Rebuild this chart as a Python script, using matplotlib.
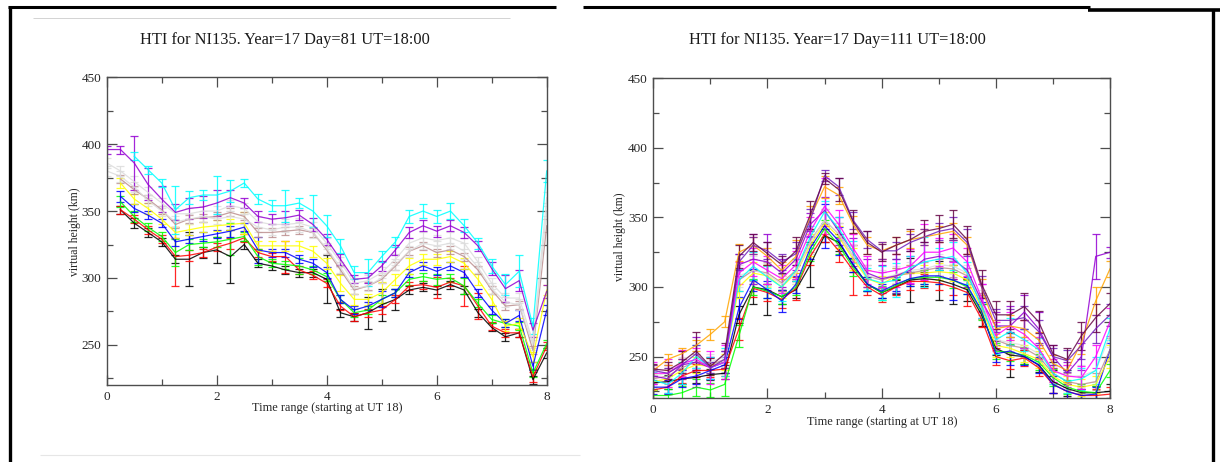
import numpy as np
import matplotlib
matplotlib.use("Agg")
import matplotlib.pyplot as plt
from matplotlib.lines import Line2D

plt.rcParams['font.family'] = ['Liberation Serif', 'DejaVu Serif']

nan = np.nan
# time grid (hours after UT 18)
time_h = [0, .25, .5, .75, 1, 1.25, 1.5, 1.75, 2, 2.25, 2.5, 2.75, 3, 3.25, 3.5, 3.75,
          4, 4.25, 4.5, 4.75, 5, 5.25, 5.5, 5.75, 6, 6.25, 6.5, 6.75, 7, 7.25, 7.5, 7.75, 8]

titles = ["HTI for NI135. Year=17 Day=81 UT=18:00",
          "HTI for NI135. Year=17 Day=111 UT=18:00"]
xlabel = "Time range (starting at UT 18)"
ylabel = "virtual height (km)"
x_ticks = [0, 2, 4, 6, 8]
y_ticks = [250, 300, 350, 400, 450]

# ---------------- Day 81 ----------------
d81_black = [nan, 351, 341, 334, 327, 314, 314, 319, 321, 316, 325, 311, 309, 306, 304, 304,
             299, 274, 271, 274, 280, 284, 291, 293, 291, 295, 291, 274, 263, 256, 259, 224, 244]
d81_black_err = [0, 3, 4, 3, 3, 3, 20, 4, 10, 20, 3, 3, 3, 3, 3, 3,
                 18, 3, 3, 12, 12, 8, 3, 3, 3, 3, 3, 3, 3, 3, 3, 3, 4]
d81_red = [nan, 351, 344, 336, 329, 316, 317, 319, 323, 326, 330, 319, 316, 316, 306, 302,
           296, 279, 271, 274, 276, 284, 294, 295, 293, 297, 294, 279, 264, 259, 259, 226, 249]
d81_red_err = [0, 3, 3, 3, 3, 22, 4, 3, 3, 4, 3, 3, 3, 12, 3, 3,
               3, 3, 3, 3, 3, 3, 3, 3, 8, 3, 15, 10, 3, 3, 3, 4, 3]
d81_green = [nan, 357, 346, 338, 331, 319, 325, 326, 327, 329, 331, 316, 311, 310, 309, 306,
             301, 284, 274, 276, 284, 289, 299, 301, 299, 300, 294, 281, 269, 266, 264, 229, 251]
d81_green_err = [0, 4, 4, 3, 3, 10, 4, 3, 4, 12, 3, 6, 3, 3, 6, 3,
                 3, 3, 3, 3, 3, 3, 4, 3, 4, 3, 6, 3, 3, 3, 3, 3, 3]
d81_blue = [nan, 361, 352, 347, 341, 327, 329, 331, 333, 335, 338, 321, 319, 319, 314, 311,
            304, 284, 276, 279, 284, 289, 304, 309, 305, 309, 304, 289, 276, 266, 272, 234, 276]
d81_blue_err = [0, 4, 3, 3, 3, 3, 3, 3, 3, 4, 3, 10, 3, 3, 3, 3,
                4, 3, 3, 3, 6, 3, 3, 3, 3, 3, 3, 3, 3, 3, 4, 3, 4]
d81_yellow = [nan, 371, 359, 352, 344, 334, 336, 338, 339, 340, 341, 324, 324, 324, 324, 320,
              311, 296, 284, 284, 289, 299, 309, 314, 314, 316, 311, 299, 284, 264, 266, 241, 291]
d81_yellow_err = [0, 4, 4, 4, 4, 4, 4, 4, 4, 4, 8, 4, 4, 4, 4, 4,
                  4, 6, 4, 4, 8, 4, 6, 4, 4, 4, 4, 4, 4, 4, 4, 4, 4]
d81_brown = [nan, 374, 366, 359, 351, 340, 344, 345, 346, 349, 346, 334, 334, 335, 336, 334,
             321, 306, 291, 294, 299, 309, 320, 324, 319, 321, 316, 306, 291, 279, 280, 246, 339]
d81_brown_err = [0, 3, 3, 3, 3, 3, 3, 3, 3, 3, 3, 3, 3, 3, 3, 3,
                 3, 3, 3, 3, 3, 3, 3, 3, 3, 3, 3, 3, 3, 3, 3, 3, 5]
d81_grey1 = [386, 380, 372, 364, 356, 348, 348, 350, 350, 354, 352, 342, 340, 340, 341, 338,
             326, 312, 296, 298, 304, 314, 326, 330, 328, 330, 326, 312, 296, 285, 285, 252, 360]
d81_grey1_err = [4, 4, 4, 4, 4, 4, 4, 4, 4, 4, 4, 4, 4, 4, 4, 4,
                 4, 4, 4, 4, 4, 4, 4, 4, 4, 4, 4, 4, 4, 4, 4, 4, 4]
d81_grey2 = [380, 376, 368, 358, 350, 342, 344, 346, 344, 346, 344, 338, 336, 338, 338, 334,
             322, 308, 292, 294, 300, 310, 320, 326, 324, 326, 320, 308, 292, 282, 280, 250, 350]
d81_grey2_err = [4, 4, 4, 4, 4, 4, 4, 4, 4, 4, 4, 4, 4, 4, 4, 4,
                 4, 4, 4, 4, 4, 4, 4, 4, 4, 4, 6, 4, 4, 4, 4, 4, 4]
d81_violet = [396, 396, 386, 370, 359, 349, 352, 353, 356, 360, 356, 346, 344, 345, 347, 340,
              329, 314, 299, 300, 309, 321, 334, 339, 335, 339, 334, 324, 307, 292, 298, 261, 290]
d81_violet_err = [3, 3, 20, 12, 10, 6, 8, 8, 10, 6, 4, 4, 4, 5, 4, 5,
                  4, 4, 3, 4, 4, 4, 4, 4, 4, 4, 4, 4, 5, 10, 8, 5, 5]
d81_cyan = [nan, nan, 391, 381, 371, 351, 360, 362, 362, 365, 371, 359, 354, 354, 356, 350,
            339, 324, 304, 304, 316, 327, 346, 350, 346, 350, 339, 326, 309, 295, 305, 264, 380]
d81_cyan_err = [0, 0, 3, 3, 3, 18, 5, 4, 14, 8, 3, 4, 4, 12, 4, 12,
                8, 5, 5, 10, 4, 4, 5, 5, 5, 6, 5, 4, 5, 8, 12, 6, 8]

# ---------------- Day 111 ----------------
d111_black = [231, 232, 234, 235, 237, 238, 280, 300, 298, 293, 298, 316, 337, 332, 316, 302,
              296, 300, 305, 306, 305, 302, 298, 280, 256, 251, 250, 244, 232, 227, 224, 224, 225]
d111_black_err = [5, 5, 4, 4, 4, 4, 6, 12, 18, 5, 6, 16, 5, 6, 5, 5,
                  4, 5, 16, 5, 14, 14, 8, 8, 5, 16, 5, 5, 8, 5, 5, 5, 5]
d111_red = [226, 228, 236, 240, 240, 241, 270, 299, 296, 291, 299, 322, 338, 326, 312, 300,
            294, 300, 304, 304, 303, 300, 296, 277, 250, 247, 249, 242, 230, 225, 222, 222, 223]
d111_red_err = [6, 5, 5, 5, 5, 5, 8, 6, 6, 6, 8, 6, 6, 8, 18, 6,
                5, 6, 6, 5, 5, 6, 10, 6, 6, 6, 6, 6, 6, 5, 5, 5, 5]
d111_green = [222, 222, 224, 228, 226, 230, 265, 300, 297, 293, 300, 325, 342, 330, 314, 302,
              296, 301, 306, 307, 307, 305, 300, 282, 254, 253, 251, 246, 235, 228, 225, 224, 240]
d111_green_err = [5, 5, 5, 6, 5, 8, 8, 6, 5, 5, 6, 6, 6, 6, 6, 5,
                  5, 5, 5, 5, 5, 6, 5, 6, 6, 6, 6, 6, 6, 5, 5, 5, 5]
d111_blue = [228, 228, 234, 236, 240, 244, 285, 305, 298, 290, 302, 328, 344, 333, 316, 302,
             297, 302, 306, 308, 308, 305, 301, 283, 252, 254, 250, 244, 230, 225, 222, 223, 255]
d111_blue_err = [5, 5, 6, 6, 6, 6, 8, 8, 6, 8, 6, 8, 16, 10, 5, 5,
                 5, 5, 5, 6, 6, 14, 6, 6, 6, 10, 6, 6, 6, 5, 5, 5, 5]
d111_yellow = [232, 234, 240, 244, 243, 246, 300, 310, 308, 300, 310, 330, 346, 336, 320, 306,
               302, 308, 310, 310, 311, 310, 305, 285, 258, 256, 252, 248, 236, 230, 228, 230, 250]
d111_yellow_err = [6, 6, 6, 6, 6, 6, 8, 8, 8, 8, 8, 8, 8, 8, 8, 6,
                   6, 6, 6, 6, 6, 6, 6, 8, 8, 6, 6, 6, 6, 6, 6, 6, 8]
d111_brown = [234, 236, 242, 246, 244, 248, 305, 312, 310, 303, 312, 333, 348, 338, 322, 308,
              305, 308, 310, 312, 314, 313, 308, 288, 262, 258, 256, 250, 238, 232, 230, 232, 255]
d111_brown_err = [6, 6, 6, 6, 6, 6, 8, 8, 8, 6, 8, 8, 8, 8, 8, 8,
                  6, 6, 6, 6, 6, 6, 6, 8, 8, 6, 6, 6, 6, 6, 6, 6, 8]
d111_grey = [236, 238, 244, 248, 246, 250, 308, 312, 309, 302, 310, 332, 348, 338, 322, 308,
             306, 309, 312, 313, 316, 315, 310, 290, 262, 260, 258, 252, 240, 236, 236, 240, 265]
d111_grey_err = [6, 6, 6, 6, 6, 6, 8, 10, 8, 6, 8, 8, 8, 8, 8, 8,
                 6, 6, 6, 6, 8, 6, 6, 8, 8, 6, 6, 6, 6, 8, 8, 8, 8]
d111_cyan = [233, 230, 238, 250, 242, 246, 305, 315, 307, 300, 312, 336, 354, 342, 325, 306,
             303, 305, 314, 318, 320, 322, 310, 286, 262, 268, 262, 255, 238, 232, 234, 240, 270]
d111_cyan_err = [6, 6, 8, 8, 8, 10, 8, 10, 8, 10, 8, 8, 8, 8, 8, 8,
                 12, 12, 8, 18, 8, 10, 8, 8, 10, 10, 8, 8, 8, 8, 8, 10, 8]
d111_magenta = [238, 238, 245, 248, 242, 246, 310, 318, 312, 306, 316, 340, 358, 345, 328, 312,
                310, 312, 315, 325, 325, 328, 318, 292, 265, 272, 266, 256, 240, 236, 235, 250, 275]
d111_magenta_err = [8, 10, 10, 8, 12, 12, 8, 10, 10, 10, 10, 10, 20, 10, 10, 10,
                    10, 12, 12, 20, 10, 10, 10, 10, 10, 10, 10, 8, 8, 8, 8, 8, 10]
d111_orange = [240, 248, 252, 258, 266, 275, 325, 330, 322, 312, 322, 350, 372, 366, 345, 330,
               326, 330, 334, 336, 338, 340, 330, 300, 270, 272, 270, 262, 245, 240, 260, 290, 313]
d111_orange_err = [4, 4, 4, 4, 4, 4, 6, 6, 6, 6, 12, 8, 8, 6, 6, 6,
                   6, 6, 6, 6, 6, 6, 6, 6, 6, 8, 6, 6, 6, 8, 8, 10, 6]
d111_violet = [236, 234, 244, 246, 242, 246, 316, 320, 318, 310, 320, 345, 355, 340, 325, 310,
               306, 308, 312, 320, 322, 320, 312, 290, 272, 272, 282, 270, 250, 238, 250, 322, 325]
d111_violet_err = [6, 10, 10, 18, 8, 8, 8, 18, 20, 10, 8, 8, 10, 10, 10, 10,
                   10, 12, 10, 12, 10, 14, 12, 12, 10, 14, 12, 12, 8, 8, 10, 16, 4]
d111_indigo = [240, 238, 244, 252, 242, 248, 318, 330, 326, 318, 324, 348, 380, 372, 348, 334,
               326, 326, 332, 336, 340, 342, 332, 300, 276, 276, 278, 268, 250, 247, 258, 270, 280]
d111_indigo_err = [4, 4, 4, 6, 4, 6, 6, 6, 6, 6, 8, 8, 4, 6, 6, 6,
                   6, 6, 6, 6, 6, 8, 10, 8, 8, 8, 8, 8, 6, 8, 10, 10, 8]
d111_maroon = [241, 240, 246, 254, 243, 252, 322, 332, 324, 316, 326, 352, 378, 370, 347, 332,
               325, 330, 334, 340, 342, 345, 334, 302, 280, 280, 286, 275, 252, 248, 265, 278, 288]
d111_maroon_err = [4, 6, 8, 14, 6, 8, 8, 6, 8, 6, 10, 10, 4, 8, 8, 8,
                   6, 6, 8, 8, 10, 10, 10, 10, 10, 10, 10, 8, 6, 8, 10, 10, 8]

C = {
    'black': (0, 0, 0), 'red': (1, 0, 0), 'green': (0, 1, 0), 'blue': (0, 0, 1),
    'yellow': (1, 1, 0), 'brown': (188/255, 143/255, 143/255), 'grey': (220/255, 220/255, 220/255),
    'violet': (148/255, 0, 211/255), 'cyan': (0, 1, 1), 'magenta': (1, 0, 1),
    'orange': (1, 165/255, 0), 'indigo': (114/255, 33/255, 188/255), 'maroon': (103/255, 7/255, 72/255),
}

panels = [
    [('black', d81_black, d81_black_err), ('red', d81_red, d81_red_err),
     ('green', d81_green, d81_green_err), ('blue', d81_blue, d81_blue_err),
     ('yellow', d81_yellow, d81_yellow_err), ('brown', d81_brown, d81_brown_err),
     ('grey', d81_grey1, d81_grey1_err), ('grey', d81_grey2, d81_grey2_err),
     ('violet', d81_violet, d81_violet_err), ('cyan', d81_cyan, d81_cyan_err)],
    [('black', d111_black, d111_black_err), ('red', d111_red, d111_red_err),
     ('green', d111_green, d111_green_err), ('blue', d111_blue, d111_blue_err),
     ('yellow', d111_yellow, d111_yellow_err), ('brown', d111_brown, d111_brown_err),
     ('grey', d111_grey, d111_grey_err), ('violet', d111_violet, d111_violet_err),
     ('cyan', d111_cyan, d111_cyan_err), ('magenta', d111_magenta, d111_magenta_err),
     ('orange', d111_orange, d111_orange_err), ('indigo', d111_indigo, d111_indigo_err),
     ('maroon', d111_maroon, d111_maroon_err)],
]

W, H = 1220, 462
fig = plt.figure(figsize=(W / 100, H / 100), dpi=100)

def px_rect(l, t, r, b):
    return [l / W, 1 - b / H, (r - l) / W, (b - t) / H]

axes_px = [(106.7, 77.3, 546.7, 385), (653.3, 78.3, 1110, 398.3)]
title_pos = [(285, 40), (837, 40)]
xlabel_pos = [(327, 408), (882, 422)]
ylabel_pos = [(75, 232), (620, 237)]

axcol = (0.3, 0.3, 0.3)
for i, (rect, series) in enumerate(zip(axes_px, panels)):
    ax = fig.add_axes(px_rect(*rect))
    x = np.array(time_h, dtype=float)
    for cname, vals, err in series:
        v = np.array(vals, dtype=float)
        e = np.array(err, dtype=float)
        m = ~np.isnan(v)
        ax.errorbar(x[m], v[m], yerr=e[m], color=C[cname], lw=0.9, elinewidth=0.9,
                    capsize=2.8, capthick=0.9, alpha=0.85)
    ax.set_xlim(0, 8)
    ax.set_ylim(220, 450)
    ax.set_xticks(x_ticks)
    ax.set_yticks(y_ticks)
    ax.set_xticks([1, 3, 5, 7], minor=True)
    ax.set_yticks([225, 275, 325, 375, 425], minor=True)
    ax.tick_params(which='both', direction='in', top=True, right=True, colors=axcol,
                   labelcolor=(0.15, 0.15, 0.15), labelsize=9.5, pad=4, width=0.9)
    ax.tick_params(which='major', length=7)
    ax.tick_params(which='minor', length=4)
    for s in ax.spines.values():
        s.set_color(axcol)
        s.set_linewidth(1.0)
    fig.text(title_pos[i][0] / W, 1 - title_pos[i][1] / H, titles[i], ha='center', va='center',
             fontsize=11.8, color=(0.1, 0.1, 0.1))
    fig.text(xlabel_pos[i][0] / W, 1 - xlabel_pos[i][1] / H, xlabel, ha='center', va='center',
             fontsize=8.8, color=(0.15, 0.15, 0.15))
    fig.text(ylabel_pos[i][0] / W, 1 - ylabel_pos[i][1] / H, ylabel, ha='center', va='center',
             rotation=90, fontsize=8.5, color=(0.15, 0.15, 0.15))

def fline(x0, y0, x1, y1, lw, color='black'):
    fig.add_artist(Line2D([x0 / W, x1 / W], [1 - y0 / H, 1 - y1 / H], lw=lw, color=color,
                          solid_capstyle='butt'))

# page frame lines
fline(9.5, 6, 9.5, 462, 2.4)
fline(8, 7, 556, 7, 2.2)
fline(33, 18, 510, 18, 0.6, (0.8, 0.8, 0.8))
fline(40, 455, 580, 455, 0.8, (0.9, 0.9, 0.9))
fline(583, 7, 1090, 7, 2.2)
fline(1088, 9.5, 1220, 9.5, 2.6)
fline(1213, 9, 1213, 462, 2.4)

fig.savefig("out.png", dpi=100)
